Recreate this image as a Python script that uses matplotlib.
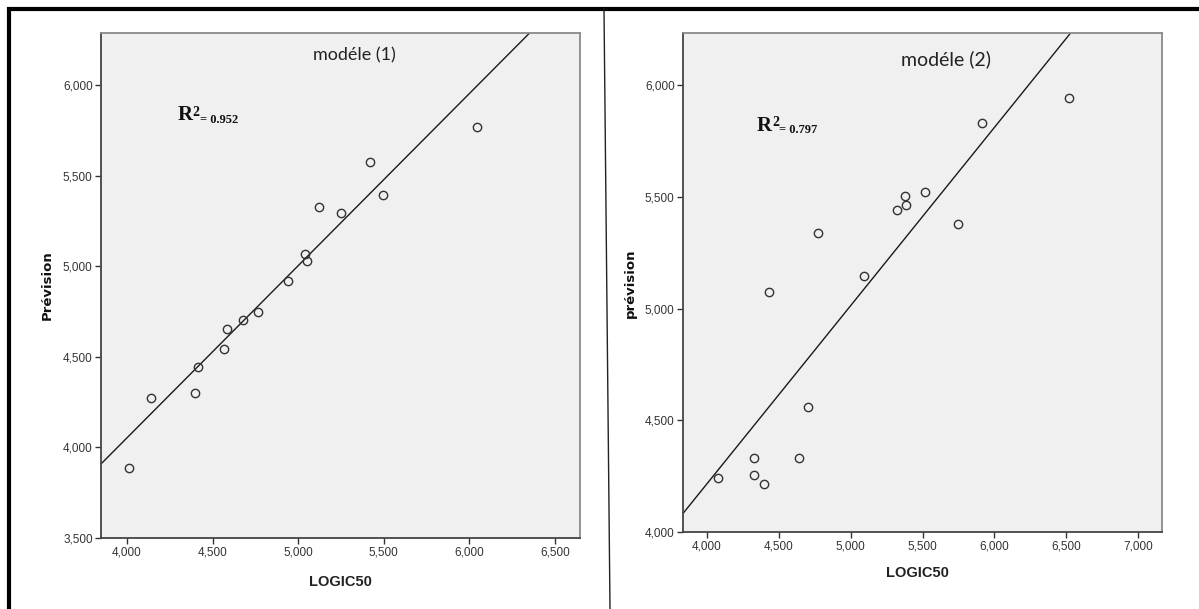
import matplotlib
matplotlib.use('Agg')
import matplotlib.pyplot as plt
from matplotlib.lines import Line2D
from matplotlib.ticker import FuncFormatter, MultipleLocator

# modèle (1)
x1 = [4010, 4140, 4395, 4415, 4565, 4585, 4680, 4765, 4940, 5040, 5050,
      5120, 5250, 5420, 5495, 6045]
y1 = [3885, 4275, 4300, 4445, 4545, 4655, 4705, 4745, 4920, 5070, 5030,
      5325, 5295, 5575, 5395, 5770]
fit1 = (0.950, 253)        # slope, intercept
r2_1 = '0.952'

# modèle (2)
x2 = [4075, 4325, 4330, 4400, 4640, 4705, 4430, 4770, 5090, 5325, 5375,
      5385, 5520, 5745, 5915, 6520]
y2 = [4240, 4255, 4330, 4215, 4330, 4560, 5075, 5340, 5145, 5440, 5505,
      5465, 5520, 5380, 5830, 5940]
fit2 = (0.797, 1028)
r2_2 = '0.797'

W, H = 1199, 609
fig = plt.figure(figsize=(W / 100, H / 100), dpi=100)

TICK_FONT = ['Liberation Sans Narrow', 'Liberation Sans']


def px_rect(left, top, right, bottom):
    return [left / W, 1 - bottom / H, (right - left) / W, (bottom - top) / H]


def draw_panel(rect, xs, ys, fit, r2, title, xlim, ylim, xticks, r_pos, t_pos, t_size):
    ax = fig.add_axes(rect)
    ax.set_facecolor('#f0f0f0')
    ax.plot(xs, ys, 'o', ms=6, mfc='none', mec='#333333', mew=1.0, zorder=3)
    ax.axline((0, fit[1]), slope=fit[0], color='#1a1a1a', lw=1.0, zorder=2)
    ax.set_xlim(*xlim)
    ax.set_ylim(*ylim)
    ax.set_xticks(xticks)
    ax.yaxis.set_major_locator(MultipleLocator(500))
    fmt = FuncFormatter(lambda v, p: f'{v:,.0f}')
    ax.xaxis.set_major_formatter(fmt)
    ax.yaxis.set_major_formatter(fmt)
    ax.tick_params(direction='out', length=4, width=1, color='#333333',
                   labelsize=8.5, labelcolor='#333333', pad=2)
    for lab in ax.get_xticklabels() + ax.get_yticklabels():
        lab.set_family(TICK_FONT)
    for side in ('left', 'bottom'):
        ax.spines[side].set_color('#444444')
        ax.spines[side].set_linewidth(1.3)
    for side in ('top', 'right'):
        ax.spines[side].set_color('#8a8a8a')
        ax.spines[side].set_linewidth(1.3)
    ax.text(t_pos[0], t_pos[1], title, transform=ax.transAxes, ha='center',
            va='center', fontsize=t_size, family=['Lato', 'DejaVu Sans'],
            color='#222222')
    # R² label, Times-like bold with superscript
    r = ax.text(r_pos[0], r_pos[1], 'R', transform=ax.transAxes, ha='left',
                va='bottom', fontsize=15, fontweight='bold',
                family='Liberation Serif', color='#111111')
    sup = ax.annotate('2', xy=(1, 1), xycoords=r, xytext=(0.3, -0.5),
                      textcoords='offset points', ha='left', va='top',
                      fontsize=10, fontweight='bold', family='Liberation Serif',
                      color='#111111')
    ax.annotate('= ' + r2, xy=(1, 0), xycoords=(sup, r), xytext=(0, -0.5),
                textcoords='offset points', ha='left', va='bottom',
                fontsize=9, fontweight='bold', family='Liberation Serif',
                color='#111111')
    return ax


draw_panel(px_rect(101, 33, 580, 538), x1, y1, fit1, r2_1, 'modéle (1)',
           (3848, 6646), (3500, 6287), [4000, 4500, 5000, 5500, 6000, 6500],
           (0.159, 0.818), (0.530, 0.956), 13)
draw_panel(px_rect(683, 33, 1162, 532), x2, y2, fit2, r2_2, 'modéle (2)',
           (3833, 7167), (4000, 6233), [4000, 4500, 5000, 5500, 6000, 6500, 7000],
           (0.154, 0.794), (0.549, 0.948), 14)

fig.text(47 / W, 1 - 285 / H, 'Prévision', rotation=90, ha='center', va='center',
         fontsize=9.5, fontweight='bold', family='DejaVu Sans', color='#111111')
fig.text(630 / W, 1 - 283 / H, 'prévision', rotation=90, ha='center', va='center',
         fontsize=9.5, fontweight='bold', family='DejaVu Sans', color='#111111')
fig.text(340 / W, 1 - 582 / H, 'LOGIC50', ha='center', va='center',
         fontsize=10.5, fontweight='bold', family='Liberation Sans', color='#222222')
fig.text(917 / W, 1 - 573 / H, 'LOGIC50', ha='center', va='center',
         fontsize=10.5, fontweight='bold', family='Liberation Sans', color='#222222')

# outer frame of the pasted screenshots
fig.add_artist(Line2D([7 / W, 1], [1 - 9 / H, 1 - 9 / H], color='black', lw=3,
                      solid_capstyle='butt'))
fig.add_artist(Line2D([9 / W, 9 / W], [1 - 7 / H, 0], color='black', lw=3,
                      solid_capstyle='butt'))
fig.add_artist(Line2D([604 / W, 610 / W], [1 - 9 / H, 0], color='#222222', lw=1))

fig.savefig('out.png', dpi=100)
